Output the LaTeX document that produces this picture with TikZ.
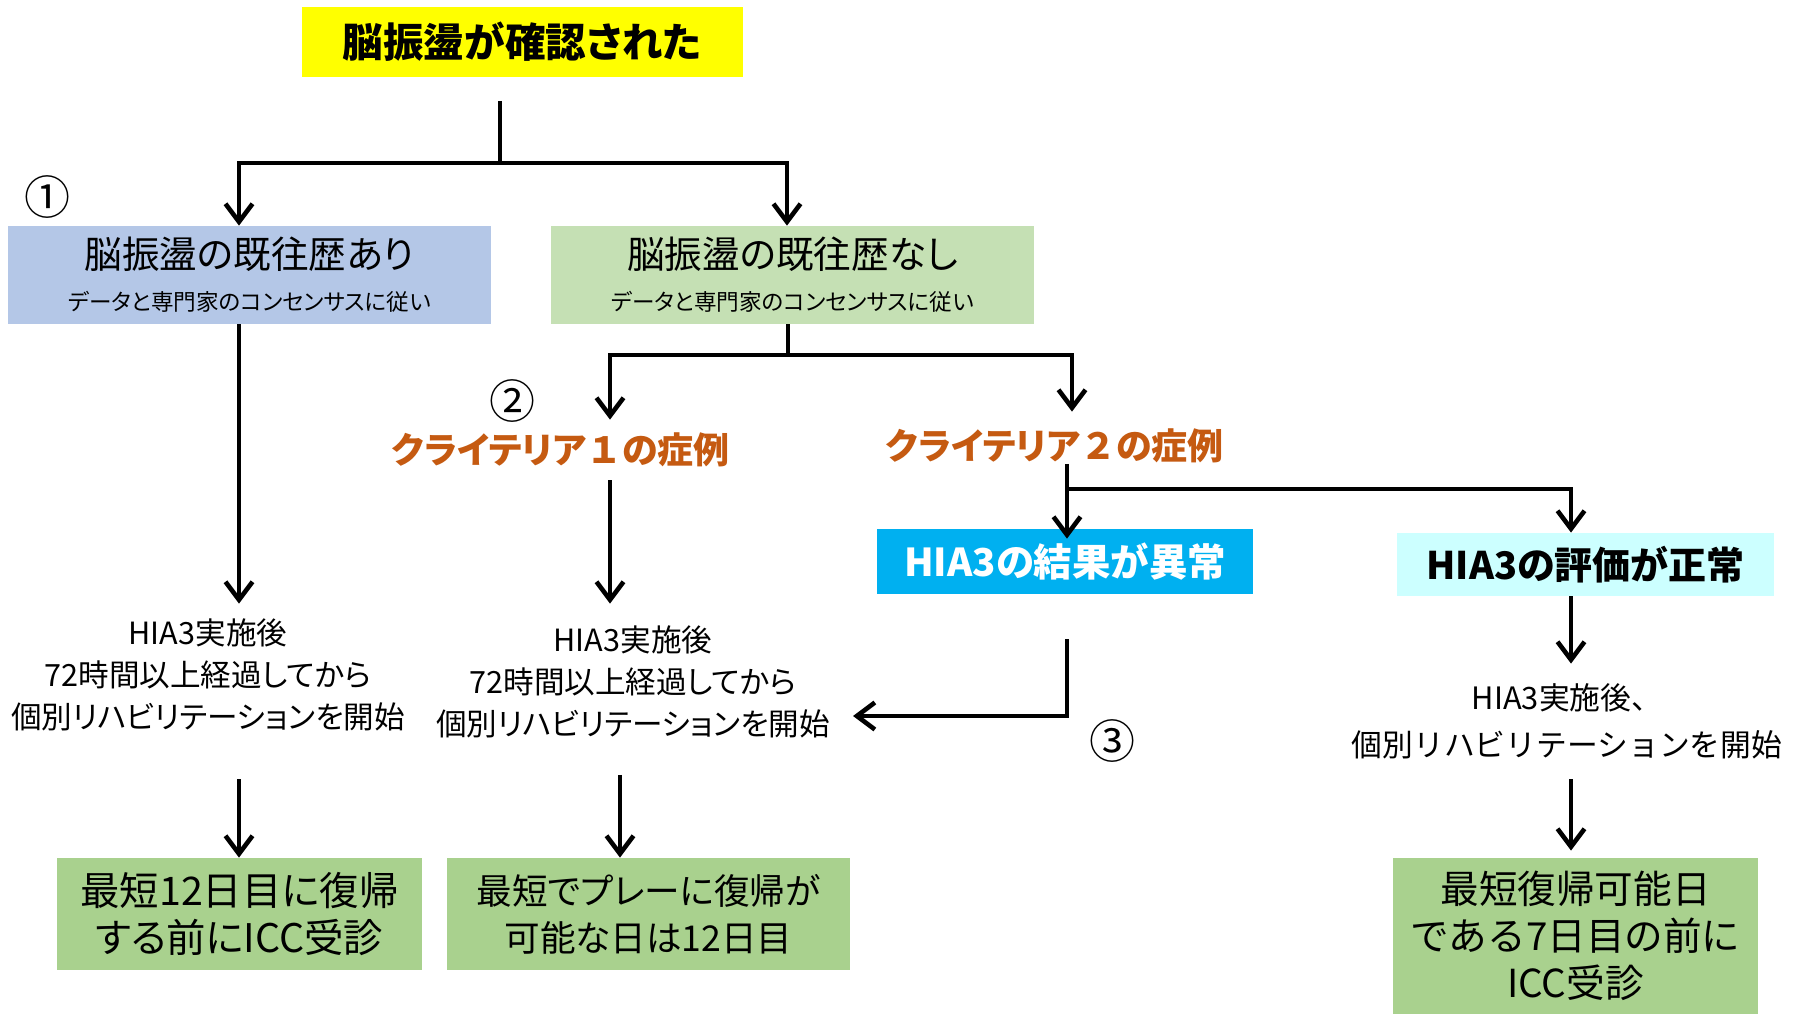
\documentclass[tikz,border=0pt]{standalone}
\usepackage{fontspec}
\usetikzlibrary{arrows.meta}
\newfontfamily\jp[RawFeature=+palt]{Noto Sans CJK JP}
\newfontfamily\jpw{Noto Sans CJK JP}
\definecolor{cyel}{HTML}{FFFF00}
\definecolor{cblue}{HTML}{B4C7E7}
\definecolor{cpale}{HTML}{C5E0B4}
\definecolor{cgreen}{HTML}{A9D18E}
\definecolor{ccyan}{HTML}{00B0F0}
\definecolor{clcyan}{HTML}{CCFFFF}
\definecolor{corange}{HTML}{C55A11}
\tikzset{
  box/.style={rectangle, inner sep=0pt, align=center, text=black},
  txt/.style={rectangle, inner sep=0pt, align=center, text=black},
  crit/.style={rectangle, inner sep=0pt, align=center, text=corange, font=\jp\bfseries\fontsize{18}{22}\selectfont},
  circ/.style={inner sep=0pt, font=\jpw\fontsize{23}{23}\selectfont},
  ln/.style={line width=2.3pt},
  arr/.style={line width=2.3pt, -{Straight Barb[length=9pt,width=13.5pt]}}
}
\begin{document}
\begin{tikzpicture}[x=0.5pt,y=-0.5pt]
\useasboundingbox[fill=white] (0,0) rectangle (1796,1015);

% nodes
\node[box, fill=cyel, minimum width=220.5pt, minimum height=35pt, font=\jp\bfseries\fontsize{20.3}{26}\selectfont] (title) at (522,42) {脳振盪が確認された};

\node[box, fill=cblue, minimum width=241.5pt, minimum height=49pt, font=\jp\fontsize{11.3}{21}\selectfont] (b1) at (249.5,275)
  {{\fontsize{18.8}{24}\selectfont 脳振盪の既往歴あり}\\{\fontsize{11.3}{21}\selectfont データと専門家のコンセンサスに従い}};
\node[box, fill=cpale, minimum width=241.5pt, minimum height=49pt, font=\jp\fontsize{11.3}{21}\selectfont] (b2) at (792.5,275)
  {{\fontsize{18.8}{24}\selectfont 脳振盪の既往歴なし}\\{\fontsize{11.3}{21}\selectfont データと専門家のコンセンサスに従い}};

\node[circ] (n1) at (48,197) {①};
\node[circ] (n2) at (512,401) {②};
\node[circ] (n3) at (1112,741) {③};

\node[crit, minimum height=30pt] (c1) at (561,450) {クライテリア{\jpw １}の症例};
\node[crit, minimum height=34pt] (c2) at (1055,446) {クライテリア{\jpw ２}の症例};

\node[box, fill=ccyan, text=white, minimum width=188pt, minimum height=32.5pt, font=\jp\bfseries\fontsize{19.2}{24}\selectfont] (abn) at (1065,561.5) {HIA3の結果が異常};
\node[box, fill=clcyan, minimum width=188.5pt, minimum height=31.5pt, font=\jp\bfseries\fontsize{19}{24}\selectfont] (nrm) at (1585.5,564.5) {HIA3の評価が正常};

\node[txt, minimum height=71pt, font=\jp\fontsize{15.3}{21}\selectfont] (t1) at (208,675)
  {HIA3実施後\\72時間以上経過してから\\個別リハビリテーションを開始};
\node[txt, minimum height=78pt, font=\jp\fontsize{15.3}{21}\selectfont] (t2) at (633,682)
  {HIA3実施後\\72時間以上経過してから\\個別リハビリテーションを開始};
\node[txt, minimum height=57.5pt, font=\jpw\fontsize{15.4}{23.5}\selectfont] (t3) at (1567,721.5)
  {HIA3実施後、\\個別リハビリテーションを開始};

\node[box, fill=cgreen, minimum width=182.5pt, minimum height=56pt, font=\jp\fontsize{19.7}{23.5}\selectfont] (g1) at (239.5,914)
  {最短12日目に復帰\\する前にICC受診};
\node[box, fill=cgreen, minimum width=201.5pt, minimum height=56pt, font=\jp\fontsize{17.8}{23.5}\selectfont] (g2) at (648.5,914)
  {最短でプレーに復帰が\\可能な日は12日目};
\node[box, fill=cgreen, minimum width=182.5pt, minimum height=78pt, font=\jpw\fontsize{19.3}{23.5}\selectfont] (g3) at (1575.5,936)
  {最短復帰可能日\\である7日目の前に\\ICC受診};

% junction coordinates
\coordinate (s0) at (500,101);
\coordinate (j1) at (500,163);
\coordinate (j1l) at (239,163);
\coordinate (j1r) at (787,163);
\coordinate (j2) at (788,355);
\coordinate (j2l) at (610,355);
\coordinate (j2r) at (1072,355);
\coordinate (c2b) at (1067,464);
\coordinate (j3) at (1067,489);
\coordinate (j3r) at (1571,489);
\coordinate (v2) at (620,775);
\coordinate (a3) at (853,716);

% connectors
\draw[ln] (s0) -- (j1);
\draw[arr] (j1) -| (b1.north -| j1l);
\draw[arr] (j1) -| (b2.north -| j1r);

\draw[arr] (b1.south -| j1l) -- (t1.north -| j1l);
\draw[arr, shorten <=16.5pt] (t1.south -| j1l) -- (g1.north -| j1l);

\draw[ln] (b2.south -| j2) -- (j2);
\draw[arr] (j2) -| (c1.north -| j2l);
\draw[arr] (j2) -| (c2.north -| j2r);

\draw[arr] (c1.south -| j2l) -- (t2.north -| j2l);
\draw[arr] (v2) -- (v2 |- g2.north);

\draw[arr, shorten >=-5pt] (c2b) -- (c2b |- abn.north);
\draw[arr] (j3) -| (nrm.north -| j3r);

\draw[arr, shorten <=22.5pt] (abn.south -| c2b) |- (a3);

\draw[arr] (nrm.south -| j3r) -- (t3.north -| j3r);
\draw[arr, shorten >=3.5pt] (t3.south -| j3r) -- (g3.north -| j3r);
\end{tikzpicture}
\end{document}
